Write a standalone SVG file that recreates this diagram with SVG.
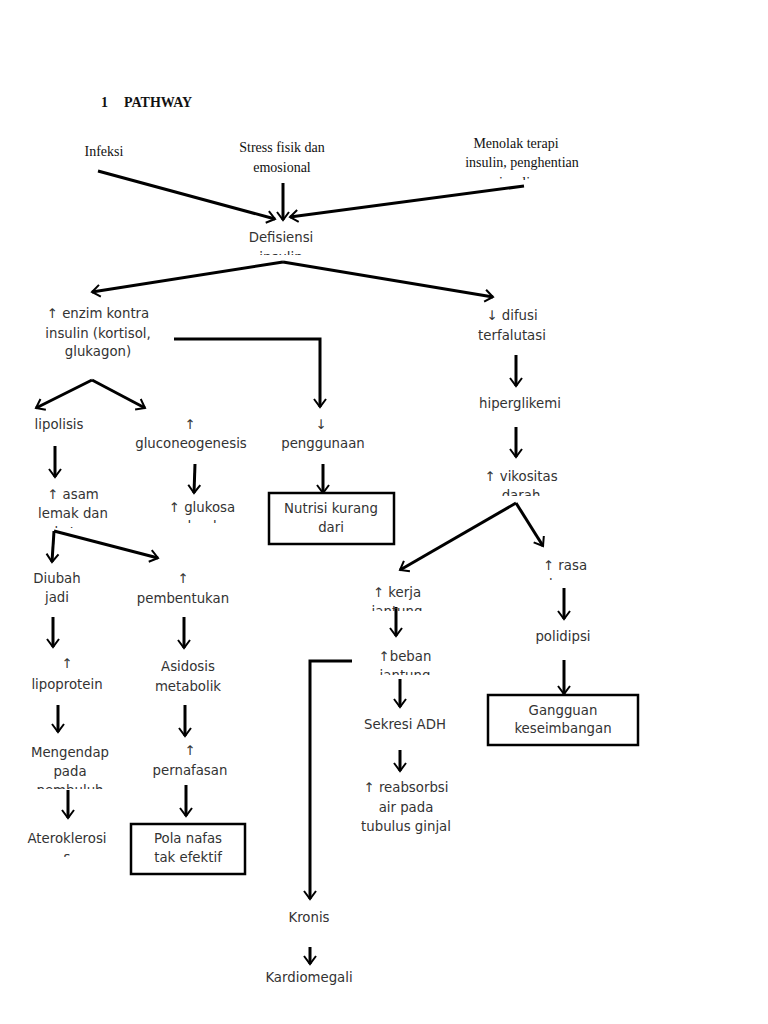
<svg xmlns="http://www.w3.org/2000/svg" width="768" height="1024" viewBox="0 0 768 1024">
<defs>
<style>
.t{font-family:"DejaVu Sans","Noto Sans",sans-serif;font-size:13.3px;fill:#333;text-anchor:middle}
.s{font-family:"Liberation Serif","DejaVu Serif",serif;font-size:14px;fill:#111;text-anchor:middle}
.title{font-family:"Liberation Serif",serif;font-size:14px;font-weight:bold;fill:#111}
.c{fill:none;stroke:#000;stroke-width:3;marker-end:url(#ah)}
.b{fill:#fff;stroke:#000;stroke-width:2.5}
</style>
<marker id="ah" markerUnits="userSpaceOnUse" markerWidth="20" markerHeight="20" refX="0" refY="0" viewBox="-10 -10 20 20" orient="auto" overflow="visible">
<path d="M-8,-6 L0,0 L-8,6" fill="none" stroke="#000" stroke-width="2"/>
</marker>
<clipPath id="cDef"><rect x="200" y="220" width="170" height="35"/></clipPath>
<clipPath id="cMen"><rect x="440" y="130" width="170" height="50"/></clipPath>
<clipPath id="cVik"><rect x="450" y="460" width="140" height="36"/></clipPath>
<clipPath id="cRasa"><rect x="510" y="550" width="110" height="30"/></clipPath>
<clipPath id="cAsam"><rect x="10" y="480" width="130" height="48"/></clipPath>
<clipPath id="cGlu"><rect x="150" y="490" width="110" height="33"/></clipPath>
<clipPath id="cKer"><rect x="340" y="575" width="120" height="36"/></clipPath>
<clipPath id="cBeb"><rect x="350" y="640" width="120" height="35"/></clipPath>
<clipPath id="cMeng"><rect x="10" y="735" width="130" height="54"/></clipPath>
<clipPath id="cAter"><rect x="10" y="820" width="130" height="37"/></clipPath>
</defs>

<g id="title"><text class="title" x="101" y="107">1</text><text class="title" x="124" y="107">PATHWAY</text></g>

<g id="connectors">
<path class="c" d="M98,171 L275,219"/>
<path class="c" d="M283,183 L283,220"/>
<path class="c" d="M524,186 L290,217"/>
<path class="c" d="M283,262 L92,292"/>
<path class="c" d="M283,262 L493,297"/>
<path class="c" d="M174,339 L320,339 L320,407"/>
<path class="c" d="M516,355 L516,386"/>
<path class="c" d="M516,427 L516,457"/>
<path class="c" d="M516,503 L400,570"/>
<path class="c" d="M516,503 L543,546"/>
<path class="c" d="M564,588 L564,619"/>
<path class="c" d="M564,660 L564,694"/>
<path class="c" d="M92,380 L36,408"/>
<path class="c" d="M92,380 L145,408"/>
<path class="c" d="M55,446 L55,477"/>
<path class="c" d="M195,464 L194,493"/>
<path class="c" d="M323,464 L323,493"/>
<path class="c" d="M54,531 L52,562"/>
<path class="c" d="M54,531 L158,558"/>
<path class="c" d="M53,617 L53,647"/>
<path class="c" d="M184,617 L184,648"/>
<path class="c" d="M58,705 L58,732"/>
<path class="c" d="M185,705 L185,736"/>
<path class="c" d="M68,790 L68,818"/>
<path class="c" d="M186,785 L186,816"/>
<path class="c" d="M396,607 L396,636"/>
<path class="c" d="M352,661 L310,661 L310,899"/>
<path class="c" d="M400,679 L400,707"/>
<path class="c" d="M400,750 L400,771"/>
<path class="c" d="M310,947 L310,964"/>
</g>

<g id="n-infeksi"><text class="s" x="104" y="156">Infeksi</text></g>
<g id="n-stress"><text class="s" x="282" y="152">Stress fisik dan</text><text class="s" x="282" y="172">emosional</text></g>
<g id="n-menolak" clip-path="url(#cMen)"><text class="s" x="516" y="148">Menolak terapi</text><text class="s" x="522" y="167">insulin, penghentian</text><text class="s" x="518" y="187">insulin</text></g>
<g id="n-defisiensi" clip-path="url(#cDef)"><text class="t" x="281" y="242">Defisiensi</text><text class="t" x="281" y="262">insulin</text></g>
<g id="n-enzim"><text class="t" x="98" y="318">↑ enzim kontra</text><text class="t" x="98" y="338">insulin (kortisol,</text><text class="t" x="98" y="356">glukagon)</text></g>
<g id="n-difusi"><text class="t" x="512" y="320">↓ difusi</text><text class="t" x="512" y="340">terfalutasi</text></g>
<g id="n-hiper"><text class="t" x="520" y="408">hiperglikemi</text></g>
<g id="n-vikositas" clip-path="url(#cVik)"><text class="t" x="521" y="481">↑ vikositas</text><text class="t" x="521" y="500">darah</text></g>
<g id="n-rasa" clip-path="url(#cRasa)"><text class="t" x="565" y="570">↑ rasa</text><text class="t" x="565" y="589">haus</text></g>
<g id="n-polidipsi"><text class="t" x="563" y="641">polidipsi</text></g>
<g id="n-gangguan"><rect class="b" x="488" y="695" width="150" height="50"/><text class="t" x="563" y="715">Gangguan</text><text class="t" x="563" y="733">keseimbangan</text></g>
<g id="n-lipolisis"><text class="t" x="59" y="429">lipolisis</text></g>
<g id="n-gluco"><text class="t" x="190" y="429">↑</text><text class="t" x="191" y="448">gluconeogenesis</text></g>
<g id="n-penggunaan"><text class="t" x="321" y="429">↓</text><text class="t" x="323" y="448">penggunaan</text></g>
<g id="n-asam" clip-path="url(#cAsam)"><text class="t" x="73" y="499">↑ asam</text><text class="t" x="73" y="518">lemak dan</text><text class="t" x="73" y="537">keton</text></g>
<g id="n-glukosa" clip-path="url(#cGlu)"><text class="t" x="202" y="512">↑ glukosa</text><text class="t" x="202" y="531">darah</text></g>
<g id="n-nutrisi"><rect class="b" x="269" y="493" width="125" height="51"/><text class="t" x="331" y="513">Nutrisi kurang</text><text class="t" x="331" y="532">dari</text></g>
<g id="n-diubah"><text class="t" x="57" y="583">Diubah</text><text class="t" x="57" y="602">jadi</text></g>
<g id="n-pembentukan"><text class="t" x="183" y="583">↑</text><text class="t" x="183" y="603">pembentukan</text></g>
<g id="n-lipoprotein"><text class="t" x="67" y="668">↑</text><text class="t" x="67" y="689">lipoprotein</text></g>
<g id="n-asidosis"><text class="t" x="188" y="671">Asidosis</text><text class="t" x="188" y="691">metabolik</text></g>
<g id="n-mengendap" clip-path="url(#cMeng)"><text class="t" x="70" y="757">Mengendap</text><text class="t" x="70" y="776">pada</text><text class="t" x="70" y="795">pembuluh</text></g>
<g id="n-pernafasan"><text class="t" x="190" y="755">↑</text><text class="t" x="190" y="775">pernafasan</text></g>
<g id="n-ateroklerosis" clip-path="url(#cAter)"><text class="t" x="67" y="843">Ateroklerosi</text><text class="t" x="67" y="862">s</text></g>
<g id="n-pola"><rect class="b" x="131" y="824" width="114" height="50"/><text class="t" x="188" y="843">Pola nafas</text><text class="t" x="188" y="862">tak efektif</text></g>
<g id="n-kerja" clip-path="url(#cKer)"><text class="t" x="397" y="597">↑ kerja</text><text class="t" x="397" y="616">jantung</text></g>
<g id="n-beban" clip-path="url(#cBeb)"><text class="t" x="405" y="661">↑beban</text><text class="t" x="405" y="680">jantung</text></g>
<g id="n-sekresi"><text class="t" x="405" y="729">Sekresi ADH</text></g>
<g id="n-reabsorbsi"><text class="t" x="406" y="792">↑ reabsorbsi</text><text class="t" x="406" y="812">air pada</text><text class="t" x="406" y="831">tubulus ginjal</text></g>
<g id="n-kronis"><text class="t" x="309" y="922">Kronis</text></g>
<g id="n-kardiomegali"><text class="t" x="309" y="982">Kardiomegali</text></g>
</svg>
